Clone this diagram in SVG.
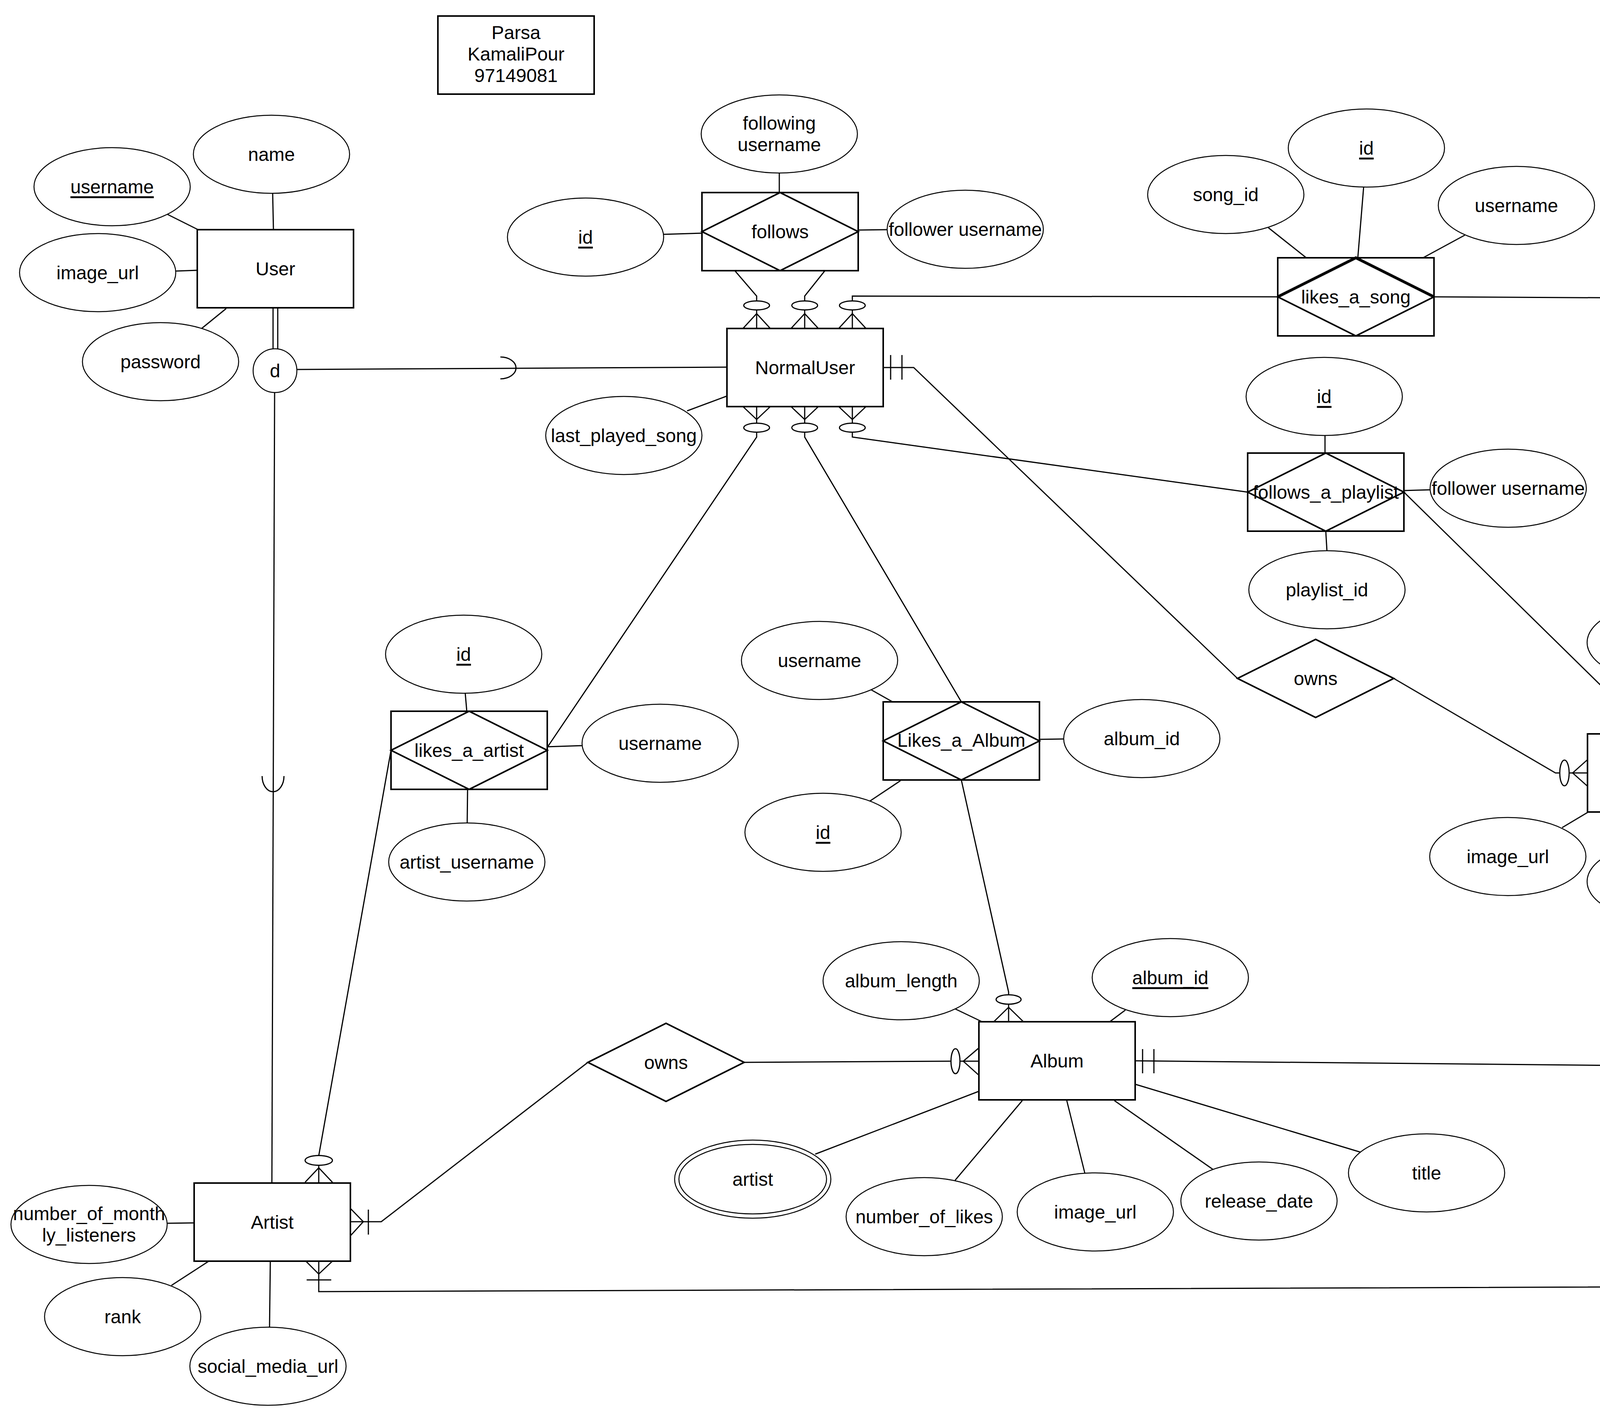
<svg xmlns="http://www.w3.org/2000/svg" width="5948" height="3628" viewBox="0 0 5948 3628">
<style>
.ent{fill:#fff;stroke:#000;stroke-width:4}
.att{fill:#fff;stroke:#000;stroke-width:2.5}
.ln{fill:none;stroke:#000;stroke-width:3}
.mk{fill:#fff;stroke:#000;stroke-width:3}
.bold{fill:none;stroke:#000;stroke-width:7}
text{font-family:"Liberation Sans",Arial,Helvetica,sans-serif;font-size:48px;text-anchor:middle;dominant-baseline:central;fill:#000}
.u{text-decoration:underline}
</style>
<rect x="0" y="0" width="5948" height="3628" fill="#fff"/>

<g id="connectors">
<!-- User attributes -->
<line class="ln" x1="429" y1="549" x2="507" y2="588"/>
<line class="ln" x1="698" y1="494" x2="700" y2="588"/>
<line class="ln" x1="450" y1="694" x2="505" y2="692"/>
<line class="ln" x1="515" y1="842" x2="579" y2="790"/>
<!-- User to d (double line) -->
<line class="ln" x1="699" y1="789" x2="699" y2="894"/>
<line class="ln" x1="711" y1="789" x2="711" y2="894"/>
<!-- d to NormalUser -->
<line class="ln" x1="760" y1="946" x2="1861" y2="940"/>
<path class="ln" d="M1281,914 A40,28 0 0 1 1281,970"/>
<!-- d to Artist -->
<line class="ln" x1="703" y1="1005" x2="696" y2="3029"/>
<path class="ln" d="M671,1987 A28,40 0 0 0 727,1987"/>

<!-- follows attributes -->
<line class="ln" x1="1995" y1="442" x2="1995" y2="493"/>
<line class="ln" x1="1699" y1="600" x2="1797" y2="597"/>
<line class="ln" x1="2197" y1="589" x2="2271" y2="588"/>
<!-- NormalUser attribute -->
<line class="ln" x1="1759" y1="1052" x2="1861" y2="1014"/>

<!-- NormalUser top connectors -->
<polyline class="ln" points="1882,694 1937,758 1937,771"/>
<polyline class="ln" points="2111,694 2060,758 2060,771"/>
<polyline class="ln" points="3271,760 2182,758 2182,771"/>
<line class="ln" x1="1937" y1="794" x2="1937" y2="841"/>
<line class="ln" x1="2060" y1="794" x2="2060" y2="841"/>
<line class="ln" x1="2182" y1="794" x2="2182" y2="841"/>
<polyline class="ln" points="1902,841 1937,803 1972,841"/>
<polyline class="ln" points="2025,841 2060,803 2095,841"/>
<polyline class="ln" points="2147,841 2182,803 2217,841"/>
<ellipse class="mk" cx="1937" cy="782" rx="33" ry="11.5"/>
<ellipse class="mk" cx="2060" cy="782" rx="33" ry="11.5"/>
<ellipse class="mk" cx="2182" cy="782" rx="33" ry="11.5"/>

<!-- NormalUser bottom connectors -->
<polyline class="ln" points="1400,1915 1937,1119 1937,1106"/>
<polyline class="ln" points="2461,1797 2060,1119 2060,1106"/>
<polyline class="ln" points="3194,1260 2182,1119 2182,1106"/>
<line class="ln" x1="1937" y1="1041" x2="1937" y2="1084"/>
<line class="ln" x1="2060" y1="1041" x2="2060" y2="1084"/>
<line class="ln" x1="2182" y1="1041" x2="2182" y2="1084"/>
<polyline class="ln" points="1902,1041 1937,1074 1972,1041"/>
<polyline class="ln" points="2025,1041 2060,1074 2095,1041"/>
<polyline class="ln" points="2147,1041 2182,1074 2217,1041"/>
<ellipse class="mk" cx="1937" cy="1095" rx="33" ry="11.5"/>
<ellipse class="mk" cx="2060" cy="1095" rx="33" ry="11.5"/>
<ellipse class="mk" cx="2182" cy="1095" rx="33" ry="11.5"/>

<!-- NormalUser right to owns (playlist) -->
<polyline class="ln" points="2261,941 2339,941 3168,1737"/>
<line class="ln" x1="2280" y1="909" x2="2280" y2="972"/>
<line class="ln" x1="2309" y1="909" x2="2309" y2="972"/>

<!-- likes_a_song attributes -->
<line class="ln" x1="3247" y1="583" x2="3344" y2="660"/>
<line class="ln" x1="3491" y1="478" x2="3476" y2="660"/>
<line class="ln" x1="3750" y1="602" x2="3643" y2="660"/>
<!-- likes_a_song to Song -->
<line class="ln" x1="3671" y1="760" x2="4971" y2="767"/>
<line class="ln" x1="4995" y1="767" x2="5041" y2="767"/>
<polyline class="ln" points="5041,732 5002,767 5041,803"/>
<ellipse class="mk" cx="4983" cy="767" rx="12" ry="32"/>

<!-- Song attributes -->
<line class="ln" x1="5061" y1="227" x2="5206" y2="668"/>
<line class="ln" x1="5379" y1="334" x2="5271" y2="669"/>
<line class="ln" x1="4794" y1="392" x2="5122" y2="667"/>
<line class="ln" x1="5577" y1="497" x2="5362" y2="667"/>
<line class="ln" x1="4854" y1="639" x2="5041" y2="699"/>
<line class="ln" x1="5500" y1="710" x2="5441" y2="721"/>
<line class="ln" x1="5549" y1="861" x2="5441" y2="828"/>

<!-- Song bottom connectors -->
<line class="ln" x1="5117" y1="868" x2="5125" y2="1979"/>
<polyline class="ln" points="5083,868 5117,903 5151,868"/>
<line class="ln" x1="5085" y1="916" x2="5149" y2="916"/>
<line class="ln" x1="5240" y1="868" x2="5253" y2="2735"/>
<polyline class="ln" points="5206,868 5240,903 5274,868"/>
<line class="ln" x1="5208" y1="916" x2="5272" y2="916"/>
<line class="ln" x1="5362" y1="868" x2="5362" y2="910"/>
<polyline class="ln" points="5328,868 5362,903 5396,868"/>
<line class="ln" x1="5362" y1="934" x2="5392" y2="3292"/>
<ellipse class="mk" cx="5362" cy="922" rx="33" ry="12"/>

<!-- follows_a_playlist attributes -->
<line class="ln" x1="3392" y1="1113" x2="3392" y2="1160"/>
<line class="ln" x1="3594" y1="1256" x2="3662" y2="1254"/>
<line class="ln" x1="3394" y1="1360" x2="3397" y2="1411"/>
<!-- follows_a_playlist to Playlist -->
<polyline class="ln" points="3594,1260 4140,1796 4140,1809"/>
<line class="ln" x1="4140" y1="1835" x2="4140" y2="1879"/>
<polyline class="ln" points="4104,1879 4140,1839 4176,1879"/>
<ellipse class="mk" cx="4140" cy="1822" rx="34" ry="13"/>

<!-- owns (playlist) to Playlist -->
<polyline class="ln" points="3568,1737 3982,1979 3993,1979"/>
<line class="ln" x1="4017" y1="1979" x2="4064" y2="1979"/>
<polyline class="ln" points="4064,1945 4026,1979 4064,2013"/>
<ellipse class="mk" cx="4005" cy="1979" rx="12" ry="33"/>

<!-- Playlist to Has -->
<line class="ln" x1="4464" y1="1979" x2="4506" y2="1979"/>
<polyline class="ln" points="4464,1945 4503,1979 4464,2013"/>
<line class="ln" x1="4530" y1="1979" x2="4725" y2="1979"/>
<ellipse class="mk" cx="4518" cy="1979" rx="12" ry="33"/>

<!-- Playlist attributes -->
<line class="ln" x1="4553" y1="1623" x2="4344" y2="1879"/>
<line class="ln" x1="4263" y1="1744" x2="4263" y2="1879"/>
<line class="ln" x1="4571" y1="1825" x2="4462" y2="1879"/>
<line class="ln" x1="3999" y1="2119" x2="4066" y2="2079"/>
<line class="ln" x1="4263" y1="2079" x2="4263" y2="2158"/>
<line class="ln" x1="4464" y1="2079" x2="4570" y2="2130"/>

<!-- likes_a_artist attributes -->
<line class="ln" x1="1191" y1="1775" x2="1195" y2="1821"/>
<line class="ln" x1="1400" y1="1912" x2="1491" y2="1909"/>
<line class="ln" x1="1197" y1="2021" x2="1196" y2="2107"/>
<!-- likes_a_artist to Artist -->
<line class="ln" x1="1001" y1="1921" x2="816" y2="2959"/>
<line class="ln" x1="816" y1="2983" x2="816" y2="3029"/>
<polyline class="ln" points="781,3027 816,2990 851,3027"/>
<ellipse class="mk" cx="816" cy="2971" rx="35" ry="12.5"/>

<!-- Likes_a_Album attributes -->
<line class="ln" x1="2230" y1="1766" x2="2285" y2="1797"/>
<line class="ln" x1="2661" y1="1893" x2="2723" y2="1892"/>
<line class="ln" x1="2227" y1="2051" x2="2305" y2="1999"/>
<!-- Likes_a_Album to Album -->
<polyline class="ln" points="2461,1997 2582,2540 2582,2547"/>
<line class="ln" x1="2582" y1="2571" x2="2582" y2="2616"/>
<polyline class="ln" points="2544,2616 2582,2579 2620,2616"/>
<ellipse class="mk" cx="2582" cy="2559" rx="32" ry="12"/>

<!-- Artist to owns (album) -->
<polyline class="ln" points="898,3128 976,3128 1505,2720"/>
<polyline class="ln" points="898,3095 930,3128 898,3163"/>
<line class="ln" x1="943" y1="3097" x2="943" y2="3161"/>
<!-- owns to Album -->
<line class="ln" x1="1905" y1="2720" x2="2434" y2="2717"/>
<line class="ln" x1="2458" y1="2717" x2="2506" y2="2717"/>
<polyline class="ln" points="2506,2683 2466,2717 2506,2753"/>
<ellipse class="mk" cx="2446" cy="2717" rx="11.5" ry="32"/>
<!-- Album to Has -->
<line class="ln" x1="2906" y1="2716" x2="4851" y2="2735"/>
<line class="ln" x1="2925" y1="2686" x2="2925" y2="2748"/>
<line class="ln" x1="2954" y1="2686" x2="2954" y2="2748"/>

<!-- Album attributes -->
<line class="ln" x1="2445" y1="2583" x2="2514" y2="2616"/>
<line class="ln" x1="2881" y1="2586" x2="2841" y2="2616"/>
<line class="ln" x1="2087" y1="2955" x2="2506" y2="2794"/>
<line class="ln" x1="2445" y1="3022" x2="2617" y2="2818"/>
<line class="ln" x1="2777" y1="3003" x2="2731" y2="2818"/>
<line class="ln" x1="3105" y1="2994" x2="2853" y2="2818"/>
<line class="ln" x1="3483" y1="2950" x2="2906" y2="2776"/>

<!-- Artist bottom to owns (song) -->
<polyline class="ln" points="816,3229 816,3307 4991,3292"/>
<polyline class="ln" points="783,3229 816,3262 851,3229"/>
<line class="ln" x1="785" y1="3277" x2="848" y2="3277"/>

<!-- Artist attributes -->
<line class="ln" x1="428" y1="3132" x2="497" y2="3131"/>
<line class="ln" x1="439" y1="3291" x2="533" y2="3230"/>
<line class="ln" x1="690" y1="3398" x2="692" y2="3230"/>
</g>

<g id="author">
<rect class="ent" x="1121" y="41" width="400" height="200"/>
<text x="1321" y="83">Parsa</text>
<text x="1321" y="138">KamaliPour</text>
<text x="1321" y="193">97149081</text>
</g>

<g id="User">
<rect class="ent" x="505" y="588" width="400" height="200"/>
<text x="705" y="688">User</text>
</g>
<g id="User_username"><ellipse class="att" cx="287" cy="478" rx="200" ry="100"/><text class="u" x="287" y="478">username</text></g>
<g id="User_name"><ellipse class="att" cx="695" cy="395" rx="200" ry="100"/><text x="695" y="395">name</text></g>
<g id="User_image_url"><ellipse class="att" cx="250" cy="698" rx="200" ry="100"/><text x="250" y="698">image_url</text></g>
<g id="User_password"><ellipse class="att" cx="411" cy="926" rx="200" ry="100"/><text x="411" y="926">password</text></g>
<g id="disjoint"><circle class="att" cx="704" cy="949" r="56"/><text x="704" y="949">d</text></g>

<g id="NormalUser">
<rect class="ent" x="1861" y="841" width="400" height="200"/>
<text x="2061" y="941">NormalUser</text>
</g>
<g id="NormalUser_last_played_song"><ellipse class="att" cx="1597" cy="1115" rx="200" ry="100"/><text x="1597" y="1115">last_played_song</text></g>

<g id="follows">
<rect class="ent" x="1797" y="493" width="400" height="200"/>
<polygon class="ent" points="1997,493 2197,593 1997,693 1797,593"/>
<text x="1997" y="593">follows</text>
</g>
<g id="follows_following_username"><ellipse class="att" cx="1995" cy="343" rx="200" ry="100"/><text x="1995" y="315">following</text><text x="1995" y="370">username</text></g>
<g id="follows_id"><ellipse class="att" cx="1499" cy="607" rx="200" ry="100"/><text class="u" x="1499" y="607">id</text></g>
<g id="follows_follower_username"><ellipse class="att" cx="2471" cy="587" rx="200" ry="100"/><text x="2471" y="587">follower username</text></g>

<g id="likes_a_song">
<rect class="ent" x="3271" y="660" width="400" height="200"/>
<polygon class="ent" points="3471,660 3671,760 3471,860 3271,760"/>
<polyline class="bold" points="3271,760 3471,660 3671,760"/>
<text x="3471" y="760">likes_a_song</text>
</g>
<g id="likes_a_song_song_id"><ellipse class="att" cx="3138" cy="498" rx="200" ry="100"/><text x="3138" y="498">song_id</text></g>
<g id="likes_a_song_id"><ellipse class="att" cx="3498" cy="379" rx="200" ry="100"/><text class="u" x="3498" y="379">id</text></g>
<g id="likes_a_song_username"><ellipse class="att" cx="3882" cy="526" rx="200" ry="100"/><text x="3882" y="526">username</text></g>

<g id="Song">
<rect class="ent" x="5041" y="668" width="400" height="200"/>
<text x="5241" y="768">Song</text>
</g>
<g id="Song_album"><ellipse class="att" cx="5026" cy="126" rx="200" ry="100"/><text x="5026" y="126">album</text></g>
<g id="Song_song_id"><ellipse class="att" cx="5410" cy="235" rx="200" ry="100"/><text class="u" x="5410" y="235">song_id</text></g>
<g id="Song_song_url"><ellipse class="att" cx="4690" cy="306" rx="200" ry="100"/><text x="4690" y="306">song_url</text></g>
<g id="Song_title"><ellipse class="att" cx="5683" cy="410" rx="200" ry="100"/><text x="5683" y="410">title</text></g>
<g id="Song_number_of_times_played"><ellipse class="att" cx="4686" cy="582" rx="200" ry="100"/><text x="4686" y="554">number_of_times_</text><text x="4686" y="609">played</text></g>
<g id="Song_artist"><ellipse class="att" cx="5698" cy="667" rx="201" ry="100"/><ellipse class="att" cx="5698" cy="667" rx="190" ry="89"/><text x="5698" y="667">artist</text></g>
<g id="Song_length"><ellipse class="att" cx="5719" cy="914" rx="200" ry="100"/><text x="5719" y="914">length</text></g>

<g id="follows_a_playlist">
<rect class="ent" x="3194" y="1160" width="400" height="200"/>
<polygon class="ent" points="3394,1160 3594,1260 3394,1360 3194,1260"/>
<text x="3394" y="1260">follows_a_playlist</text>
</g>
<g id="follows_a_playlist_id"><ellipse class="att" cx="3390" cy="1015" rx="200" ry="100"/><text class="u" x="3390" y="1015">id</text></g>
<g id="follows_a_playlist_follower_username"><ellipse class="att" cx="3861" cy="1250" rx="200" ry="100"/><text x="3861" y="1250">follower username</text></g>
<g id="follows_a_playlist_playlist_id"><ellipse class="att" cx="3397" cy="1510" rx="200" ry="100"/><text x="3397" y="1510">playlist_id</text></g>

<g id="owns_playlist">
<polygon class="ent" points="3168,1737 3368,1637 3568,1737 3368,1837"/>
<text x="3368" y="1737">owns</text>
</g>

<g id="Playlist">
<rect class="ent" x="4064" y="1879" width="400" height="200"/>
<text x="4264" y="1979">Playlist</text>
</g>
<g id="Playlist_title"><ellipse class="att" cx="4630" cy="1529" rx="200" ry="100"/><text x="4630" y="1529">title</text></g>
<g id="Playlist_playlist_id"><ellipse class="att" cx="4263" cy="1645" rx="200" ry="100"/><text class="u" x="4263" y="1645">playlist_id</text></g>
<g id="Playlist_creator_username"><ellipse class="att" cx="4714" cy="1753" rx="200" ry="100"/><text x="4714" y="1753">creator username</text></g>
<g id="Playlist_image_url"><ellipse class="att" cx="3860" cy="2193" rx="200" ry="100"/><text x="3860" y="2193">image_url</text></g>
<g id="Playlist_description"><ellipse class="att" cx="4263" cy="2257" rx="200" ry="100"/><text x="4263" y="2257">description (O)</text></g>
<g id="Playlist_number_of_followers"><ellipse class="att" cx="4710" cy="2201" rx="200" ry="100"/><text x="4710" y="2171">number of</text><text x="4710" y="2226">followers</text></g>

<g id="Has_playlist_song">
<polygon class="ent" points="4725,1979 4925,1880 5125,1979 4925,2079"/>
<text x="4925" y="1979">Has</text>
</g>

<g id="likes_a_artist">
<rect class="ent" x="1001" y="1821" width="400" height="200"/>
<polygon class="ent" points="1201,1821 1401,1921 1201,2021 1001,1921"/>
<text x="1201" y="1921">likes_a_artist</text>
</g>
<g id="likes_a_artist_id"><ellipse class="att" cx="1187" cy="1675" rx="200" ry="100"/><text class="u" x="1187" y="1675">id</text></g>
<g id="likes_a_artist_username"><ellipse class="att" cx="1690" cy="1903" rx="200" ry="100"/><text x="1690" y="1903">username</text></g>
<g id="likes_a_artist_artist_username"><ellipse class="att" cx="1195" cy="2207" rx="200" ry="100"/><text x="1195" y="2207">artist_username</text></g>

<g id="Likes_a_Album">
<rect class="ent" x="2261" y="1797" width="400" height="200"/>
<polygon class="ent" points="2461,1797 2661,1897 2461,1997 2261,1897"/>
<text x="2461" y="1895">Likes_a_Album</text>
</g>
<g id="Likes_a_Album_username"><ellipse class="att" cx="2098" cy="1691" rx="200" ry="100"/><text x="2098" y="1691">username</text></g>
<g id="Likes_a_Album_album_id"><ellipse class="att" cx="2923" cy="1891" rx="200" ry="100"/><text x="2923" y="1891">album_id</text></g>
<g id="Likes_a_Album_id"><ellipse class="att" cx="2107" cy="2131" rx="200" ry="100"/><text class="u" x="2107" y="2131">id</text></g>

<g id="Album">
<rect class="ent" x="2506" y="2616" width="400" height="200"/>
<text x="2706" y="2716">Album</text>
</g>
<g id="Album_album_length"><ellipse class="att" cx="2307" cy="2511" rx="200" ry="100"/><text x="2307" y="2511">album_length</text></g>
<g id="Album_album_id"><ellipse class="att" cx="2996" cy="2503" rx="200" ry="100"/><text class="u" x="2996" y="2503">album_id</text></g>
<g id="Album_artist"><ellipse class="att" cx="1927" cy="3019" rx="200" ry="100"/><ellipse class="att" cx="1927" cy="3019" rx="189" ry="89"/><text x="1927" y="3019">artist</text></g>
<g id="Album_number_of_likes"><ellipse class="att" cx="2366" cy="3115" rx="200" ry="100"/><text x="2366" y="3115">number_of_likes</text></g>
<g id="Album_image_url"><ellipse class="att" cx="2804" cy="3103" rx="200" ry="100"/><text x="2804" y="3103">image_url</text></g>
<g id="Album_release_date"><ellipse class="att" cx="3223" cy="3075" rx="200" ry="100"/><text x="3223" y="3075">release_date</text></g>
<g id="Album_title"><ellipse class="att" cx="3652" cy="3003" rx="200" ry="100"/><text x="3652" y="3003">title</text></g>

<g id="owns_artist_album">
<polygon class="ent" points="1505,2720 1705,2620 1905,2720 1705,2820"/>
<text x="1705" y="2720">owns</text>
</g>

<g id="Has_album_song">
<polygon class="ent" points="4851,2735 5052,2637 5253,2735 5052,2837"/>
<text x="5052" y="2737">Has</text>
</g>

<g id="Artist">
<rect class="ent" x="497" y="3029" width="400" height="200"/>
<text x="697" y="3129">Artist</text>
</g>
<g id="Artist_number_of_monthly_listeners"><ellipse class="att" cx="228" cy="3135" rx="200" ry="100"/><text x="228" y="3107">number_of_month</text><text x="228" y="3162">ly_listeners</text></g>
<g id="Artist_rank"><ellipse class="att" cx="314" cy="3371" rx="200" ry="100"/><text x="314" y="3371">rank</text></g>
<g id="Artist_social_media_url"><ellipse class="att" cx="686" cy="3498" rx="200" ry="100"/><text x="686" y="3498">social_media_url</text></g>

<g id="owns_artist_song">
<polygon class="ent" points="4991,3292 5192,3193 5392,3292 5192,3393"/>
<text x="5192" y="3292">owns</text>
</g>
</svg>
